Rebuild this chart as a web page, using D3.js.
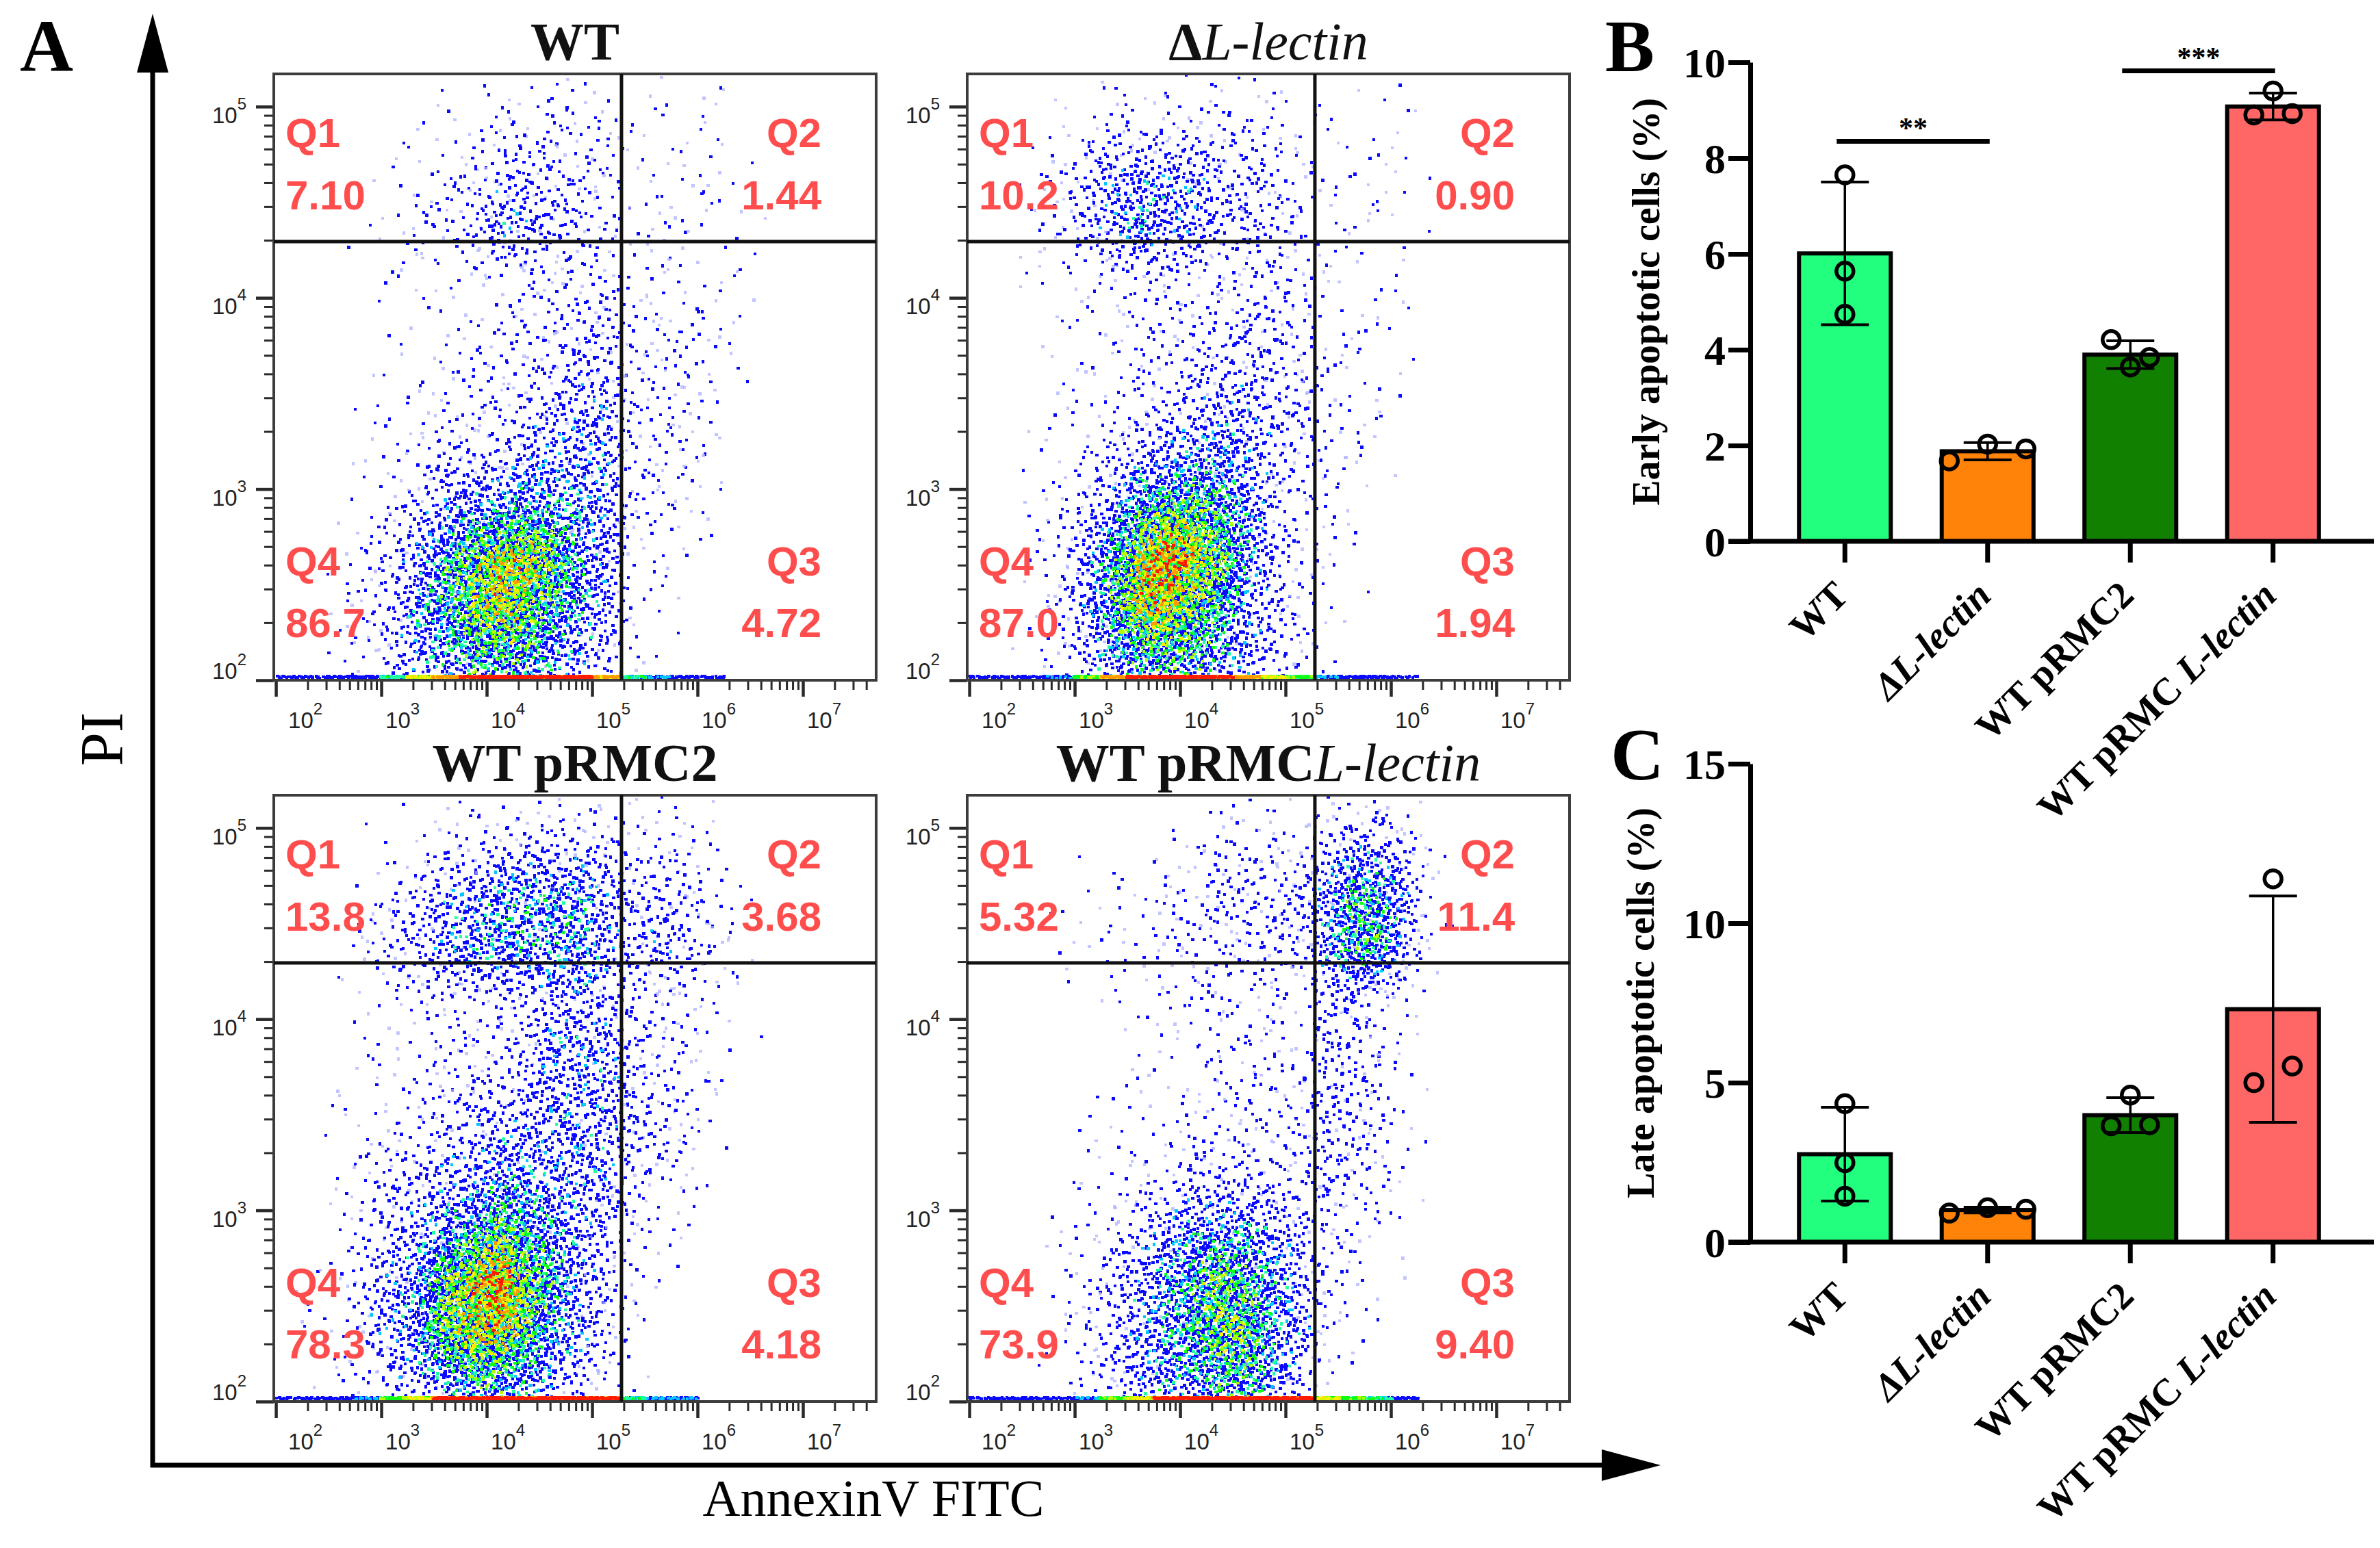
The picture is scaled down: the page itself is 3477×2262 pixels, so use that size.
<!DOCTYPE html>
<html>
<head>
<meta charset="utf-8">
<script src="https://cdn.jsdelivr.net/npm/d3@7"></script>
<style>
  body { margin: 0; background: #fff; }
  svg { display: block; }
</style>
</head>
<body>
<svg id="fig" width="3477" height="2262"></svg>
<script>
// ---------- panel A: flow cytometry plots ----------
const panelTitles = [
    [{t: "WT", w: "bold"}],
    [{t: "Δ", w: "bold"}, {t: "L-lectin", i: true}],
    [{t: "WT pRMC2", w: "bold"}],
    [{t: "WT pRMC", w: "bold"}, {t: "L-lectin", i: true}]
];
const q1Values = ["7.10", "10.2", "13.8", "5.32"];
const q2Values = ["1.44", "0.90", "3.68", "11.4"];
const q3Values = ["4.72", "1.94", "4.18", "9.40"];
const q4Values = ["86.7", "87.0", "78.3", "73.9"];

const xTickExponents = [2, 3, 4, 5, 6, 7];
const yTickExponents = [2, 3, 4, 5];
const annexinGate = 1.9e5;
const piGate = 1.97e4;

// density levels (0-9), 0.25-decade cells
// rows: PI 10^5.25 down to 10^2, columns: AnnexinV 10^2 up to 10^7
const densityWT = [
    [0,0,0,0,0,0,0,0,1,0,1,1,0,0,0,1,1,0,0,0],
    [0,0,0,0,0,1,1,1,2,2,2,2,2,1,1,1,1,0,0,0],
    [0,0,0,0,1,1,2,2,3,3,3,2,2,1,1,1,1,1,0,0],
    [0,0,0,1,1,2,2,3,4,4,3,3,2,1,2,1,1,1,0,0],
    [0,0,0,0,1,1,1,1,1,2,2,2,2,1,1,1,1,1,0,0],
    [0,0,0,0,0,1,1,1,2,2,2,3,3,2,2,2,1,1,0,0],
    [0,0,0,0,1,1,1,2,2,2,3,3,3,2,2,2,1,1,0,0],
    [0,0,0,1,1,1,2,2,2,3,3,4,4,2,2,2,1,0,0,0],
    [0,0,0,1,1,2,3,3,3,4,4,4,4,2,2,2,1,0,0,0],
    [0,0,0,1,2,3,4,5,5,6,5,5,4,2,2,1,1,0,0,0],
    [0,0,1,2,3,4,6,7,8,8,7,5,4,1,1,1,0,0,0,0],
    [0,0,1,2,3,5,6,7,8,7,6,5,4,1,1,0,0,0,0,0],
    [0,0,1,2,3,4,5,6,6,6,5,4,3,1,1,0,0,0,0,0]
];
const densityDL = [
    [0,0,0,0,0,1,0,1,0,1,1,1,0,0,0,0,1,0,0,0],
    [0,0,0,1,1,2,2,2,2,2,2,2,1,1,1,0,1,0,0,0],
    [0,0,1,2,3,4,4,4,4,3,3,2,2,1,1,1,1,0,0,0],
    [0,0,1,2,3,4,5,4,4,3,3,3,2,1,1,1,1,0,0,0],
    [0,0,1,1,1,2,2,2,2,2,2,2,2,1,1,1,0,0,0,0],
    [0,0,0,1,1,1,2,2,2,2,3,3,2,1,1,1,1,0,0,0],
    [0,0,0,1,1,1,2,2,3,3,3,3,2,2,1,1,0,0,0,0],
    [0,0,0,1,1,2,2,3,3,4,4,3,3,2,1,1,0,0,0,0],
    [0,0,1,1,2,3,4,4,5,5,4,3,2,2,1,1,0,0,0,0],
    [0,0,1,2,3,4,6,7,7,6,5,3,2,1,1,0,0,0,0,0],
    [0,0,1,2,4,6,8,9,8,7,5,3,2,1,1,0,0,0,0,0],
    [0,0,1,2,4,6,8,8,7,6,4,3,2,1,0,0,0,0,0,0],
    [0,0,1,2,3,5,6,6,6,5,4,3,2,1,0,0,0,0,0,0]
];
const densityPRMC2 = [
    [0,0,0,0,0,0,1,1,0,1,1,1,0,1,1,1,0,0,0,0],
    [0,0,0,0,1,1,2,2,3,3,3,3,3,2,2,2,1,0,0,0],
    [0,0,0,1,2,3,4,4,5,5,5,5,4,3,3,3,2,1,0,0],
    [0,0,0,2,3,3,4,5,5,5,5,5,4,3,4,3,2,1,0,0],
    [0,0,0,1,1,2,2,2,2,3,3,4,3,2,2,2,1,1,0,0],
    [0,0,0,1,1,1,2,2,2,3,4,4,4,3,2,2,1,0,0,0],
    [0,0,1,1,1,2,2,3,3,3,4,4,4,3,2,2,1,0,0,0],
    [0,0,1,1,2,2,3,3,4,4,4,4,4,3,3,2,1,0,0,0],
    [0,0,1,2,3,3,4,4,5,5,4,4,4,2,2,1,0,0,0,0],
    [0,0,1,2,3,4,5,6,7,6,5,4,3,2,1,1,0,0,0,0],
    [0,1,1,3,4,5,7,8,9,7,6,4,3,1,1,0,0,0,0,0],
    [0,1,1,3,4,5,7,8,8,7,5,4,3,1,0,0,0,0,0,0],
    [0,1,1,2,3,4,5,6,6,5,4,3,2,1,0,0,0,0,0,0]
];
const densityPRMCL = [
    [0,0,0,0,0,0,0,0,0,1,1,1,0,1,1,1,1,0,0,0],
    [0,0,0,0,0,0,0,1,1,2,2,2,2,3,4,4,3,1,0,0],
    [0,0,0,0,1,1,1,2,2,3,3,3,3,4,6,6,4,1,0,0],
    [0,0,0,1,1,1,1,2,2,2,2,3,2,4,6,6,4,1,0,0],
    [0,0,0,0,0,1,1,1,2,2,1,2,1,3,3,2,1,0,0,0],
    [0,0,0,0,0,0,1,1,1,1,2,2,1,3,3,2,1,0,0,0],
    [0,0,0,0,0,1,1,1,1,2,2,2,2,3,3,2,1,0,0,0],
    [0,0,0,0,1,1,1,1,2,2,2,2,2,3,3,2,1,0,0,0],
    [0,0,0,0,1,1,2,2,3,3,3,3,2,3,2,2,1,0,0,0],
    [0,0,0,1,1,2,3,4,5,5,5,4,3,2,2,1,0,0,0,0],
    [0,0,0,1,2,3,4,5,6,7,6,5,4,2,1,1,0,0,0,0],
    [0,0,0,1,2,3,4,5,6,7,7,5,4,2,1,0,0,0,0,0],
    [0,0,0,1,2,3,4,5,5,6,6,5,3,1,1,0,0,0,0,0]
];
// events piled up on the PI = 10^2 edge, per column
const edgeWT    = [2,2,3,3,5,7,8,9,9,9,9,9,8,5,4,3,2,0,0,0];
const edgeDL    = [2,3,3,4,6,8,9,9,9,9,8,7,6,4,3,3,2,0,0,0];
const edgePRMC2 = [2,3,3,4,6,7,9,9,9,9,9,9,9,5,4,4,0,0,0,0];
const edgePRMCL = [2,3,3,3,4,6,7,9,9,9,9,9,9,7,6,5,3,0,0,0];

const densityGrids = [densityWT, densityDL, densityPRMC2, densityPRMCL];
const edgeGrids = [edgeWT, edgeDL, edgePRMC2, edgePRMCL];
const levelCounts = [0, 4, 12, 26, 50, 85, 140, 220, 330, 480];
const faintShare = [0.45, 0.4, 0.25, 0.1, 0.03, 0.02, 0.01, 0, 0, 0];

// ---------- panels B and C: bar charts ----------
const groups = ["WT", "ΔL-lectin", "WT pRMC2", "WT pRMC L-lectin"];
const groupLabels = [
    [{t: "WT"}],
    [{t: "ΔL-lectin", i: true}],
    [{t: "WT pRMC2"}],
    [{t: "WT pRMC "}, {t: "L-lectin", i: true}]
];
const earlyValues = [[7.65, 5.64, 4.74], [1.68, 2.03, 1.93], [4.21, 3.84, 3.64], [9.40, 8.90, 8.93]];
const lateValues  = [[4.34, 2.49, 1.44], [0.91, 1.08, 1.03], [4.61, 3.65, 3.68], [11.39, 5.00, 5.52]];
const barColors = ["#22ff7e", "#ff8308", "#117f00", "#ff6666"];
const earlyTicks = [0, 2, 4, 6, 8, 10];
const lateTicks = [0, 5, 10, 15];
const earlySig = [
    {from: 0, to: 1, level: 8.35, text: "**"},
    {from: 2, to: 3, level: 9.82, text: "***"}
];

const svg = d3.select("#fig");
const serif = "'Liberation Serif', 'Times New Roman', serif";
const sans = "'Liberation Sans', Arial, sans-serif";
const narrow = "'Liberation Sans Narrow', 'Liberation Sans', Arial, sans-serif";

// layout
const panelX = [400, 1413, 400, 1413];
const panelY = [108, 108, 1162, 1162];
const panelW = 880, panelH = 886;
const cellStep = 0.25, gridLeft = 2.0, gridTop = 5.25;
const spread = 1.15; // half-width (in cells) of the triangular spread of a cell's events

const faintColor = "#aeb2ff";
const dotColor = d3.scaleThreshold()
    .domain([4.3, 5.0, 5.8, 6.8, 7.6, 8.3, 9.0])
    .range(["#0a0aff", "#00c8ff", "#20ffa0", "#10ff10", "#b4ff00", "#ffee00", "#ff9a00", "#ff1a00"]);

function halton(i, b) {
    let f = 1, r = 0;
    while (i > 0) { f /= b; r += f * (i % b); i = Math.floor(i / b); }
    return r;
}
// uniform [0,1) -> triangular [-1,1]
function tri(u) {
    return u < 0.5 ? Math.sqrt(2 * u) - 1 : 1 - Math.sqrt(2 * (1 - u));
}

// smooth level between cell centres
function levelAt(grid, lx, ly) {
    const rows = grid.length, cols = grid[0].length;
    const fc = (lx - gridLeft) / cellStep - 0.5;
    const fr = (gridTop - ly) / cellStep - 0.5;
    const c0 = Math.floor(fc), r0 = Math.floor(fr);
    const tc = fc - c0, tr = fr - r0;
    const g = (r, c) => {
        r = Math.max(0, Math.min(rows - 1, r));
        if (c < 0 || c >= cols) return 0;
        return grid[r][c];
    };
    return (1 - tr) * ((1 - tc) * g(r0, c0) + tc * g(r0, c0 + 1)) +
           tr * ((1 - tc) * g(r0 + 1, c0) + tc * g(r0 + 1, c0 + 1));
}

function addLabelText(sel, parts, baseWeight) {
    parts.forEach(p => {
        sel.append("tspan")
            .attr("font-weight", p.w || baseWeight)
            .attr("font-style", p.i ? "italic" : "normal")
            .text(p.t);
    });
}

function drawFlowPanel(i) {
    const left = panelX[i], top = panelY[i];
    const right = left + panelW, bottom = top + panelH;
    const x = d3.scaleLog().domain([Math.pow(10, 1.98), Math.pow(10, 7.695)]).range([left, right]);
    const y = d3.scaleLog().domain([100, Math.pow(10, 5.171)]).range([bottom, top]);
    const g = svg.append("g");

    svg.append("clipPath").attr("id", "clip" + i)
        .append("rect").attr("x", left).attr("y", top).attr("width", panelW).attr("height", panelH);

    const grid = densityGrids[i];
    const dots = [];
    let idx = 1 + i * 7919;
    grid.forEach((row, r) => row.forEach((lev, c) => {
        for (let k = 0; k < levelCounts[lev]; k++) {
            idx++;
            const lx = gridLeft + cellStep * (c + 0.5) + tri(halton(idx, 2)) * cellStep * spread;
            const ly = gridTop - cellStep * (r + 0.5) + tri(halton(idx, 3)) * cellStep * spread;
            const here = levelAt(grid, lx, ly);
            const faint = halton(idx, 7) < faintShare[Math.min(9, Math.round(here))];
            const s = here + 1.28 - 7.1 * halton(idx, 5);
            dots.push({vx: Math.pow(10, lx), vy: Math.pow(10, ly), s: faint ? -1 : s, faint: faint});
        }
    }));
    edgeGrids[i].forEach((lev, c) => {
        for (let k = 0; k < lev * 7; k++) {
            idx++;
            const lx = gridLeft + cellStep * (c + 0.5) + (halton(idx, 2) - 0.5) * cellStep * 1.1;
            const ly = 2.011 + halton(idx, 3) * 0.011;
            dots.push({vx: Math.pow(10, lx), vy: Math.pow(10, ly), s: 20 + lev + (halton(idx, 5) - 0.5) * 2, edge: true});
        }
    });
    dots.sort((a, b) => a.s - b.s);

    g.append("g").attr("clip-path", `url(#clip${i})`)
        .attr("shape-rendering", "crispEdges")
        .selectAll("rect").data(dots).join("rect")
        .attr("x", d => x(d.vx) - 2.2)
        .attr("y", d => y(d.vy) - 2.2)
        .attr("width", 4.4).attr("height", 4.4)
        .attr("fill", d => d.faint ? faintColor : dotColor(d.edge ? d.s - 20 : d.s))
        .attr("fill-opacity", d => d.faint ? 0.75 : 1);

    // ticks
    const majorX = xTickExponents.map(e => Math.pow(10, e));
    const majorY = yTickExponents.map(e => Math.pow(10, e));
    const minorX = [], minorY = [];
    for (let e = 1; e <= 7; e++) {
        for (let m = 2; m <= 9; m++) {
            const v = m * Math.pow(10, e);
            if (v > x.domain()[0] && v < x.domain()[1]) minorX.push(v);
            if (v > y.domain()[0] && v < y.domain()[1]) minorY.push(v);
        }
    }
    const styleAxis = (a, w) => {
        a.select(".domain").remove();
        a.attr("color", "#2a2a2a");
        a.selectAll("line").attr("stroke-width", w);
    };
    g.append("g").attr("transform", `translate(0,${bottom})`)
        .call(d3.axisBottom(x).tickValues(minorX).tickSize(14).tickFormat(""))
        .call(a => styleAxis(a, 3));
    g.append("g").attr("transform", `translate(0,${bottom})`)
        .call(d3.axisBottom(x).tickValues(majorX).tickSize(24).tickFormat(""))
        .call(a => styleAxis(a, 4.5));
    g.append("g").attr("transform", `translate(${left},0)`)
        .call(d3.axisLeft(y).tickValues(minorY).tickSize(14).tickFormat(""))
        .call(a => styleAxis(a, 3));
    g.append("g").attr("transform", `translate(${left},0)`)
        .call(d3.axisLeft(y).tickValues(majorY).tickSize(26).tickFormat(""))
        .call(a => styleAxis(a, 4.5));

    xTickExponents.forEach(e => {
        const t = g.append("text")
            .attr("x", x(Math.pow(10, e)) + (e === 2 ? 18 : 6))
            .attr("y", bottom + 70)
            .attr("font-family", narrow).attr("font-size", 33).attr("fill", "#222");
        t.append("tspan").text("10");
        t.append("tspan").attr("font-size", 24).attr("dy", -20).text(e);
    });
    yTickExponents.forEach(e => {
        const yy = y(Math.pow(10, e));
        const t = g.append("text")
            .attr("x", left - 40)
            .attr("y", e === 2 ? yy - 2 : yy + 24)
            .attr("text-anchor", "end")
            .attr("font-family", narrow).attr("font-size", 33).attr("fill", "#222");
        t.append("tspan").text("10");
        t.append("tspan").attr("font-size", 24).attr("dy", -20).text(e);
    });

    // frame and quadrant gates
    g.append("rect").attr("x", left).attr("y", top).attr("width", panelW).attr("height", panelH)
        .attr("fill", "none").attr("stroke", "#3c3c3c").attr("stroke-width", 4);
    g.append("line").attr("x1", x(annexinGate)).attr("x2", x(annexinGate))
        .attr("y1", top).attr("y2", bottom).attr("stroke", "#111").attr("stroke-width", 5);
    g.append("line").attr("x1", left).attr("x2", right)
        .attr("y1", y(piGate)).attr("y2", y(piGate)).attr("stroke", "#111").attr("stroke-width", 5);

    const qText = (tx, ty, anchor, str) => g.append("text")
        .attr("x", tx).attr("y", ty).attr("text-anchor", anchor)
        .attr("font-family", sans).attr("font-weight", "bold").attr("font-size", 60)
        .attr("fill", "#ff4d4d").text(str);
    qText(left + 17, top + 107, "start", "Q1");
    qText(left + 17, top + 198, "start", q1Values[i]);
    qText(right - 80, top + 107, "end", "Q2");
    qText(right - 80, top + 198, "end", q2Values[i]);
    qText(left + 17, bottom - 153, "start", "Q4");
    qText(left + 17, bottom - 63, "start", q4Values[i]);
    qText(right - 80, bottom - 153, "end", "Q3");
    qText(right - 80, bottom - 63, "end", q3Values[i]);

    const title = g.append("text")
        .attr("x", (left + right) / 2).attr("y", top - 21)
        .attr("text-anchor", "middle")
        .attr("font-family", serif).attr("font-size", 78).attr("fill", "#111");
    addLabelText(title, panelTitles[i], "normal");
}

[0, 1, 2, 3].forEach(drawFlowPanel);

// big axis arrows of panel A
const arrowX = 223, arrowY = 2141;
svg.append("line").attr("x1", arrowX).attr("x2", arrowX).attr("y1", 100).attr("y2", arrowY + 3)
    .attr("stroke", "#000").attr("stroke-width", 7);
svg.append("path").attr("d", `M${arrowX},20L${arrowX - 23},106L${arrowX + 23},106Z`).attr("fill", "#000");
svg.append("line").attr("x1", arrowX - 3).attr("x2", 2345).attr("y1", arrowY).attr("y2", arrowY)
    .attr("stroke", "#000").attr("stroke-width", 7);
svg.append("path").attr("d", `M2426,${arrowY}L2340,${arrowY - 23}L2340,${arrowY + 23}Z`).attr("fill", "#000");

svg.append("text").attr("transform", "translate(178,1080) rotate(-90)")
    .attr("text-anchor", "middle").attr("font-family", serif).attr("font-size", 88).text("PI");
svg.append("text").attr("x", 1276).attr("y", 2215)
    .attr("text-anchor", "middle").attr("font-family", serif).attr("font-size", 76).text("AnnexinV FITC");

// ---------- bar charts ----------
function dodge(vals, yScale) {
    const items = vals.map((v, i) => ({v: v, i: i, py: yScale(v), dx: 0}));
    const rows = [];
    [...items].sort((a, b) => b.v - a.v).forEach(it => {
        const last = rows[rows.length - 1];
        if (last && Math.abs(it.py - last[0].py) < 30) last.push(it);
        else rows.push([it]);
    });
    rows.forEach(row => {
        row.sort((a, b) => a.i - b.i);
        row.forEach((it, k) => { it.dx = (k - (row.length - 1) / 2) * 56; });
    });
    return items;
}

function drawBarPanel(values, yScale, ticks, yTitle, titleX, sig) {
    const axisX = 2557;
    const y0 = yScale(0);
    const xBar = d3.scaleBand().domain(groups).range([2591, 3425])
        .paddingInner(0.357).paddingOuter(0.1785);
    const g = svg.append("g");
    const stats = values.map((vals, k) => ({
        name: groups[k],
        mean: d3.mean(vals),
        sd: d3.deviation(vals),
        vals: vals,
        color: barColors[k]
    }));

    g.selectAll(".bar").data(stats).join("rect")
        .attr("x", d => xBar(d.name)).attr("width", xBar.bandwidth())
        .attr("y", d => yScale(d.mean)).attr("height", d => y0 - yScale(d.mean))
        .attr("fill", d => d.color).attr("stroke", "#000").attr("stroke-width", 6);

    stats.forEach(d => {
        const cx = xBar(d.name) + xBar.bandwidth() / 2;
        const yt = yScale(d.mean + d.sd), yb = yScale(d.mean - d.sd);
        g.append("line").attr("x1", cx).attr("x2", cx).attr("y1", yt).attr("y2", yb)
            .attr("stroke", "#000").attr("stroke-width", 3.5);
        [yt, yb].forEach(yy => g.append("line")
            .attr("x1", cx - 35).attr("x2", cx + 35).attr("y1", yy).attr("y2", yy)
            .attr("stroke", "#000").attr("stroke-width", 4));
        g.selectAll(null).data(dodge(d.vals, yScale)).join("circle")
            .attr("cx", p => cx + p.dx).attr("cy", p => p.py).attr("r", 12.5)
            .attr("fill", "none").attr("stroke", "#000").attr("stroke-width", 5.5);
    });

    // axes
    g.append("g").attr("transform", `translate(${axisX},0)`)
        .call(d3.axisLeft(yScale).tickValues(ticks).tickSize(32).tickSizeOuter(0).tickPadding(4))
        .call(a => {
            a.select(".domain").attr("stroke-width", 7);
            a.selectAll("line").attr("stroke-width", 7);
            a.selectAll("text").attr("font-family", serif).attr("font-weight", "bold")
                .attr("font-size", 62).attr("fill", "#000").attr("dy", "0.34em");
        });
    g.append("line").attr("x1", axisX - 32).attr("x2", 3468).attr("y1", y0).attr("y2", y0)
        .attr("stroke", "#000").attr("stroke-width", 7);
    g.append("g").attr("transform", `translate(0,${y0})`)
        .call(d3.axisBottom(xBar).tickSize(31).tickSizeOuter(0).tickFormat(""))
        .call(a => {
            a.select(".domain").remove();
            a.selectAll("line").attr("stroke-width", 7);
        });

    groups.forEach((name, k) => {
        const cx = xBar(name) + xBar.bandwidth() / 2;
        const t = g.append("text")
            .attr("transform", `translate(${cx + 8},${y0 + 82}) rotate(-45)`)
            .attr("text-anchor", "end")
            .attr("font-family", serif).attr("font-weight", "bold").attr("font-size", 56);
        addLabelText(t, groupLabels[k], "bold");
    });

    g.append("text")
        .attr("transform", `translate(${titleX},${(yScale.range()[0] + yScale.range()[1]) / 2}) rotate(-90)`)
        .attr("text-anchor", "middle")
        .attr("font-family", serif).attr("font-weight", "bold").attr("font-size", 56)
        .text(yTitle);

    (sig || []).forEach(s => {
        const xa = xBar(groups[s.from]) + xBar.bandwidth() / 2 - 12;
        const xb = xBar(groups[s.to]) + xBar.bandwidth() / 2 + 3;
        const ys = yScale(s.level);
        g.append("line").attr("x1", xa).attr("x2", xb).attr("y1", ys).attr("y2", ys)
            .attr("stroke", "#000").attr("stroke-width", 7);
        g.append("text").attr("x", (xa + xb) / 2).attr("y", ys - 6)
            .attr("text-anchor", "middle")
            .attr("font-family", serif).attr("font-weight", "bold").attr("font-size", 42)
            .text(s.text);
    });
}

const yEarly = d3.scaleLinear().domain([0, 10]).range([791, 91]);
const yLate = d3.scaleLinear().domain([0, 15]).range([1815, 1116]);
drawBarPanel(earlyValues, yEarly, earlyTicks, "Early apoptotic cells (%)", 2424, earlySig);
drawBarPanel(lateValues, yLate, lateTicks, "Late apoptotic cells (%)", 2416, []);

// panel letters
[["A", 29, 104], ["B", 2345, 104], ["C", 2353, 1139]].forEach(([t, lx, ly]) => {
    svg.append("text").attr("x", lx).attr("y", ly)
        .attr("font-family", serif).attr("font-weight", "bold").attr("font-size", 108).text(t);
});
</script>
</body>
</html>
